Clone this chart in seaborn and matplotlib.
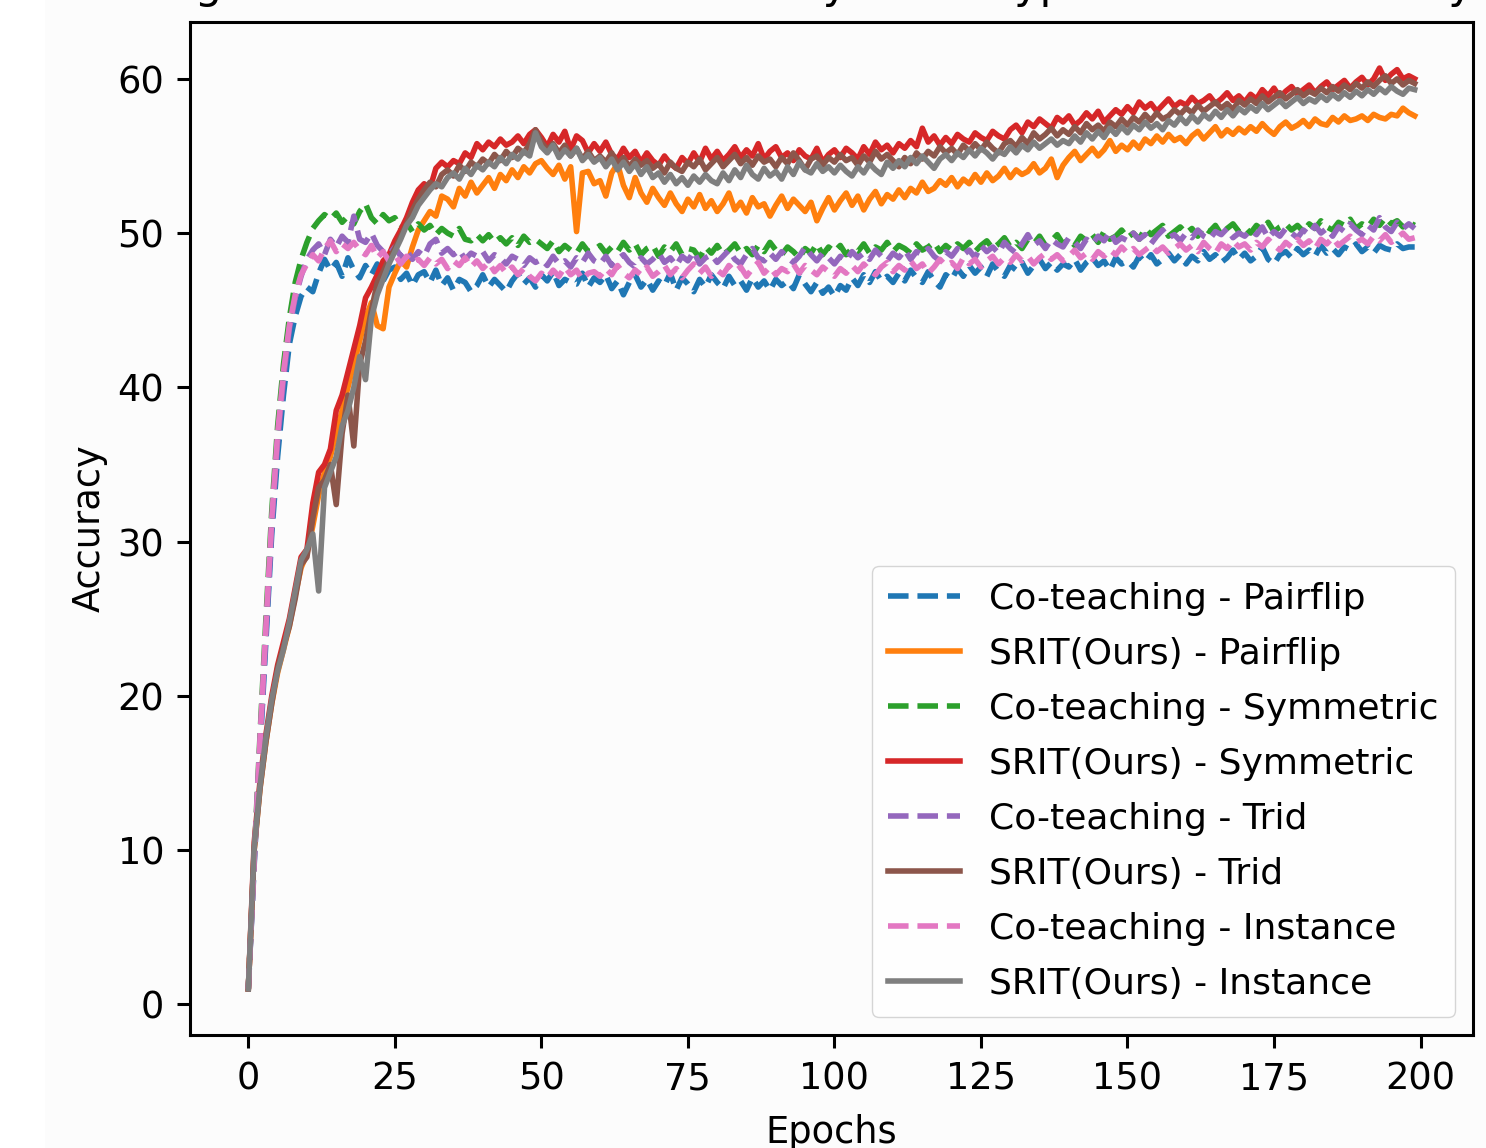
import numpy as np
import pandas as pd
import seaborn as sns
import matplotlib.pyplot as plt
from matplotlib.patches import Rectangle

# === Data (accuracy per epoch) ===
epochs = list(range(200))

ct_pairflip = [
    1.0, 9.0, 16.5, 23.5, 30.5, 35.5, 39.5, 42.8, 44.6, 45.9,
    46.5, 46.2, 47.4, 48.3, 47.6, 48.1, 47.2, 48.4, 47.6, 47.1,
    47.9, 47.3, 48.0, 46.9, 47.6, 47.8, 47.0, 47.4, 46.6, 47.3,
    47.5, 46.8, 47.6, 46.6, 47.1, 46.3, 47.0, 46.8, 46.2, 46.6,
    47.3, 46.5, 47.0, 46.6, 46.2, 46.9, 47.4, 46.7, 47.1, 46.5,
    47.3, 46.9, 47.5, 46.6, 47.0, 46.8, 46.7, 47.4, 46.5, 47.1,
    46.8, 47.3, 46.4, 46.9, 46.0, 46.8, 47.3, 46.5, 47.0, 46.3,
    46.9, 46.6, 47.4, 46.3, 47.1, 46.7, 46.2, 47.0, 46.5, 47.3,
    46.8, 46.4, 47.2, 46.6, 46.9, 46.3, 47.1, 46.5, 46.9, 46.3,
    47.0, 46.6, 46.9, 46.4, 47.3, 46.7, 46.2, 46.8, 46.1, 46.5,
    45.9, 46.6, 46.3, 47.1, 46.6, 47.3, 46.8, 47.5, 46.9, 47.2,
    46.8, 47.4, 46.9, 47.6, 47.1, 46.8, 47.5, 46.9, 46.5, 47.3,
    47.0, 47.7, 47.2, 47.9, 47.4, 47.8, 47.2, 48.0, 47.5, 47.2,
    47.9, 47.6, 48.1, 47.4, 47.9, 48.3, 47.7, 48.1, 47.6, 48.0,
    47.8, 48.3, 47.6, 48.1, 48.4, 47.9, 48.2, 47.6, 48.4, 48.0,
    48.2, 47.8, 48.5, 48.1, 48.6, 48.0, 48.3, 48.7, 48.2, 48.6,
    48.0, 48.5, 48.2, 48.8, 48.3, 48.6, 48.1, 48.4, 48.9, 48.3,
    48.7, 48.2, 48.5, 49.1, 48.3, 48.0, 48.6, 48.8, 48.4, 49.0,
    48.6, 48.9, 48.5, 49.2, 48.7, 49.0, 48.6, 49.1, 48.9, 49.3,
    48.8, 49.1, 48.7, 49.2, 49.0, 48.9, 49.3, 49.0, 49.1, 49.1,
]

srit_pairflip = [
    1.0, 10.0, 14.0, 17.0, 19.5, 21.5, 23.0, 24.5, 26.5, 28.3,
    29.2, 31.0, 33.0, 34.5, 35.5, 37.0, 38.5, 40.0, 41.5, 43.0,
    44.5, 45.5, 44.0, 43.8, 46.5, 47.4, 48.2, 47.8, 49.1, 50.2,
    50.8, 51.4, 51.1, 52.4, 52.2, 51.7, 52.9, 52.4, 53.3, 52.6,
    53.1, 53.6, 52.9, 53.8, 53.4, 54.1, 53.6, 54.3, 53.9, 54.5,
    54.7, 54.2, 53.8, 54.4, 53.5, 54.3, 50.1, 53.9, 54.0, 53.2,
    53.4, 52.4, 53.9, 54.5, 53.1, 52.3, 53.6, 52.6, 52.0, 52.9,
    52.3, 51.8, 52.6, 51.9, 51.4, 52.2, 51.7, 52.5, 51.6, 52.1,
    51.4, 51.9, 52.6, 51.5, 52.0, 51.3, 52.3, 51.7, 51.9, 51.1,
    51.8, 52.4, 51.6, 52.2, 51.8, 51.4, 52.0, 50.8, 51.6, 52.3,
    51.5, 52.1, 52.6, 51.8, 52.4, 51.5, 52.2, 52.7, 51.9, 52.5,
    52.2, 52.8, 52.3, 52.9, 52.6, 53.3, 52.7, 52.9, 53.4, 53.1,
    53.6, 53.0, 53.5, 53.2, 53.8, 53.3, 53.9, 53.4, 53.7, 54.2,
    53.6, 54.1, 53.8, 54.0, 54.5, 53.9, 54.2, 54.8, 53.6, 54.4,
    54.9, 55.3, 54.7, 55.1, 55.5, 55.0, 55.4, 56.0, 55.3, 55.7,
    55.4, 55.9, 55.5, 56.1, 55.8, 56.3, 55.9, 56.4, 56.0, 56.2,
    55.8, 56.3, 56.6, 56.1, 56.5, 56.9, 56.3, 56.7, 56.4, 56.8,
    56.5, 56.9, 56.6, 57.1, 56.7, 56.4, 56.9, 57.2, 56.8, 57.0,
    57.3, 56.9, 57.4, 57.1, 57.0, 57.5, 57.2, 57.6, 57.3, 57.4,
    57.6, 57.3, 57.7, 57.5, 57.4, 57.7, 57.6, 58.1, 57.8, 57.6,
]

ct_symmetric = [
    1.0, 9.5, 17.5, 25.0, 32.0, 37.5, 41.5, 44.5, 46.8, 48.3,
    49.4, 50.3, 50.8, 51.2, 50.9, 51.3, 50.7, 51.1, 50.6, 51.4,
    51.9, 51.0, 50.6, 51.2, 50.8, 51.0, 50.3, 50.7, 50.1, 50.6,
    50.2, 50.5, 49.9, 50.3, 50.0, 49.8, 50.3, 49.6, 49.5, 49.9,
    49.5, 49.9, 49.4, 49.7, 49.3, 49.7, 49.2, 49.8, 49.4, 49.6,
    49.3, 49.0, 49.5, 48.8, 49.2, 48.9, 48.7, 49.3, 48.8, 48.9,
    49.2, 48.7, 49.1, 48.8, 49.4, 48.9, 49.3, 48.6, 49.0, 49.2,
    48.5, 49.1, 48.8, 49.3, 48.6, 49.0, 48.9, 48.4, 49.1, 48.7,
    49.2, 48.6, 48.9, 49.3, 48.7, 49.0, 48.6, 49.2, 48.8, 49.4,
    48.9, 48.6, 49.1, 48.8, 48.4, 49.0, 48.7, 49.3, 48.6, 49.1,
    48.8, 49.2, 48.6, 49.0, 48.8, 49.3, 48.7, 49.1, 48.9, 49.4,
    48.8, 49.2, 49.0, 48.7, 49.3, 48.9, 49.1, 49.4, 48.8, 49.2,
    48.9, 49.3, 49.0, 49.4, 48.8, 49.2, 49.5, 49.0, 49.3, 49.7,
    49.1, 49.4, 49.0, 49.6, 49.3, 49.8, 49.2, 49.5, 49.9, 49.3,
    49.6, 49.2, 49.8, 49.5, 49.9, 49.4, 50.1, 49.6, 49.8, 50.2,
    49.7, 50.0, 49.6, 50.3, 49.9, 50.2, 50.5, 49.8, 50.1, 50.4,
    50.0, 50.3, 49.8, 50.4, 50.1, 50.5, 49.9, 50.3, 50.6, 50.1,
    50.4, 50.0, 50.5, 50.2, 50.7, 50.1, 50.4, 50.6, 50.2, 50.5,
    50.1, 50.6, 50.3, 50.8, 50.4, 50.2, 50.7, 50.5, 50.9, 50.3,
    50.6, 50.4, 50.9, 50.5, 51.0, 50.6, 50.8, 50.4, 50.7, 50.5,
]

srit_symmetric = [
    1.0, 10.5, 14.5, 17.5, 20.0, 22.0, 23.5, 25.0, 27.0, 29.0,
    29.5, 32.5, 34.5, 35.0, 36.0, 38.5, 39.5, 41.0, 42.5, 44.0,
    45.8, 46.5, 47.3, 48.2, 48.6, 49.5, 50.2, 51.0, 52.0, 52.8,
    53.2, 52.9, 54.2, 54.6, 54.3, 54.7, 54.5, 55.2, 54.9, 55.8,
    55.4, 55.9, 55.6, 56.1, 55.7, 55.9, 56.3, 55.8, 56.4, 56.7,
    56.2, 55.6, 56.4, 55.9, 56.6, 55.4, 56.3, 56.0, 55.2, 55.8,
    55.3, 55.9, 55.1, 54.8, 55.5, 54.9, 55.3, 54.6, 55.2, 54.7,
    54.4, 55.0, 54.5, 54.2, 54.9, 54.5, 55.2, 54.6, 55.5, 54.8,
    55.3, 54.7, 55.1, 55.6, 54.9, 55.4, 55.0, 55.8, 54.8, 55.3,
    55.6, 54.9, 55.2, 54.7, 55.4, 55.0, 54.8, 55.5, 54.6, 55.1,
    55.4, 54.9, 55.5, 55.2, 54.8, 55.6, 55.1, 55.9, 55.4, 55.7,
    55.2, 55.8, 55.5, 56.0, 55.6, 56.8, 55.9, 56.3, 55.7, 56.2,
    55.8, 56.4, 56.1, 55.9, 56.5, 56.2, 56.0, 56.6, 56.3, 56.1,
    56.7, 57.0, 56.5, 57.2, 56.9, 57.4, 57.1, 56.8, 57.5, 57.2,
    57.6, 57.0, 57.3, 57.8, 57.4, 57.9, 57.2, 57.6, 58.0, 57.7,
    58.2, 57.8, 58.5, 58.1, 58.4, 57.9, 58.3, 58.7, 58.2, 58.5,
    58.3, 58.8, 58.4, 58.6, 58.9, 58.4, 58.7, 59.1, 58.6, 58.9,
    58.5, 59.0, 58.7, 59.3, 58.9, 59.4, 58.8, 59.2, 59.5, 59.0,
    59.3, 59.6, 59.1, 59.5, 59.8, 59.3, 59.6, 59.9, 59.4, 59.8,
    60.1, 59.6, 60.0, 60.7, 59.9, 60.3, 60.6, 60.0, 60.2, 60.0,
]

ct_trid = [
    1.0, 9.2, 17.0, 24.0, 31.0, 36.5, 40.5, 43.8, 45.8, 47.2,
    48.3, 48.9, 49.3, 48.6, 49.6, 49.1, 49.8, 49.4, 51.1, 49.6,
    49.4, 50.0, 49.2, 48.8, 48.6, 49.1, 48.5, 48.9, 48.3, 48.8,
    48.5, 49.3, 49.6, 48.7, 49.0, 48.6, 48.9, 48.3, 48.7, 48.5,
    48.8, 48.2, 48.6, 48.4, 48.0, 48.5, 48.3, 47.9, 48.4, 48.1,
    48.3, 47.9, 48.5, 48.0, 48.2, 47.8, 48.4, 48.1, 48.7, 48.2,
    48.0, 48.5, 47.9, 48.3, 48.6, 48.1, 47.8, 48.4, 48.0, 48.3,
    48.7, 48.1, 48.4, 47.9, 48.5, 48.2, 48.8, 48.0, 48.4, 48.6,
    48.1, 48.5, 48.9, 48.3, 48.0, 48.6, 49.0, 48.4, 48.2, 48.7,
    48.3, 48.8, 48.4, 48.1, 48.5, 49.1, 48.6, 48.2, 48.7, 48.4,
    48.0, 48.5, 48.2, 48.8, 48.4, 48.7, 48.3, 48.9, 48.5, 48.2,
    48.7, 48.4, 48.9, 48.3, 48.8, 48.6, 49.0, 48.5, 48.2, 48.8,
    48.5, 49.0, 48.6, 48.9, 48.4, 49.2, 48.8, 49.1, 48.7, 49.4,
    49.0, 48.7, 49.3, 49.9, 49.2, 49.5, 49.0, 49.6, 49.3, 49.1,
    49.7, 49.4, 49.0, 49.6, 49.3, 49.8, 49.5, 50.1, 49.4, 49.7,
    49.5, 50.0, 49.6, 49.9, 49.3, 49.8, 50.2, 49.7, 49.9, 49.5,
    50.0, 49.7, 50.2, 49.8, 49.6, 50.1, 49.9, 50.3, 49.7, 50.0,
    49.8, 50.2, 49.9, 50.4, 49.7, 50.1, 49.8, 50.3, 50.0, 49.7,
    50.2, 49.9, 50.5, 50.0, 50.3, 49.8, 50.4, 50.1, 50.6, 50.2,
    49.9, 50.5, 50.2, 51.0, 50.4, 50.1, 50.7, 50.3, 50.6, 50.3,
]

srit_trid = [
    1.0, 10.0, 14.0, 17.0, 19.5, 21.8, 23.2, 24.5, 26.3, 28.5,
    29.0, 31.5, 33.5, 34.0, 35.0, 32.4, 37.0, 39.5, 36.2, 41.5,
    43.0, 45.0, 46.8, 47.5, 48.3, 49.0, 49.8, 50.6, 51.5, 52.2,
    52.8, 53.3, 53.0, 53.8, 54.1, 53.7, 54.4, 54.0, 54.6, 54.3,
    54.8, 54.5, 55.1, 54.7, 55.3, 54.9, 55.5, 55.2, 55.8, 56.7,
    55.9, 55.4, 55.8, 55.2, 55.7, 55.0, 55.5, 54.8, 55.3, 54.7,
    55.0, 54.6, 55.2, 54.5, 54.9, 54.3, 54.8, 54.4, 54.7, 54.2,
    54.5, 53.9, 54.6, 54.2, 54.0, 54.6, 54.3, 54.8, 54.1, 54.5,
    54.9, 54.3, 54.7, 55.1, 54.5, 54.9, 54.4, 55.0, 54.6, 54.8,
    54.3, 54.9, 54.5, 55.2, 54.7, 54.1, 54.8, 55.0, 54.4, 54.9,
    54.6, 55.1, 54.7, 54.9, 54.4, 55.0, 54.6, 55.3, 54.8, 55.1,
    54.7, 54.3, 54.9, 54.5, 55.2, 54.8, 55.3, 55.0, 55.6, 55.2,
    55.5, 55.1, 55.7, 55.3, 55.8, 55.4, 55.9, 55.5, 55.2, 55.8,
    56.0, 55.6, 56.2, 55.8, 56.5, 56.1, 56.4, 56.8, 56.3, 56.7,
    56.4, 56.9, 56.5, 57.1, 56.7, 57.0, 56.6, 57.2, 56.9, 57.4,
    57.0, 57.5, 57.2, 57.7, 57.3, 57.8, 57.4, 57.6, 58.0, 57.7,
    58.1, 57.8, 58.3, 57.9, 58.2, 58.5, 58.1, 58.4, 58.0, 58.6,
    58.3, 58.7, 58.4, 58.9, 58.5, 58.8, 59.1, 58.7, 59.0, 59.3,
    58.9, 59.2, 59.0, 59.4, 59.1, 59.5, 59.2, 59.6, 59.3, 59.7,
    59.4, 59.8, 59.5, 59.9, 60.2, 59.7, 60.0, 59.6, 59.9, 59.7,
]

ct_instance = [
    1.0, 9.3, 17.2, 24.5, 31.5, 37.0, 41.0, 44.0, 46.0, 47.3,
    48.0, 48.6, 48.2, 49.0, 49.5, 48.8, 49.3, 49.0, 49.4, 48.9,
    48.6, 49.2, 48.4, 48.8, 48.2, 48.6, 48.0, 48.5, 48.1, 48.3,
    47.9, 48.4, 48.0, 48.3, 47.7, 48.2, 47.9, 48.4, 47.8, 48.2,
    47.7, 48.1, 47.5, 47.9, 47.4, 47.8, 47.3, 47.7, 47.2, 46.9,
    47.4, 47.1, 47.6, 47.2, 47.8, 47.3, 47.6, 47.0, 47.4, 47.5,
    47.2, 47.7, 47.3, 47.9, 47.4, 47.1, 47.6, 47.3, 47.8, 47.2,
    47.5, 47.9, 47.3, 47.7, 47.1, 47.6, 48.0, 47.4, 47.8, 47.2,
    47.6, 47.3, 47.9, 47.5, 47.8, 47.2, 47.7, 48.1, 47.4, 47.8,
    47.3, 47.7, 47.5, 48.0, 47.4, 47.9, 47.6, 47.3, 47.8, 47.5,
    47.2, 47.7, 47.4, 47.9, 47.5, 48.0, 47.6, 47.3, 47.8, 48.1,
    47.5, 47.9, 47.6, 48.2, 47.7, 48.0, 47.4, 47.8, 48.3, 47.9,
    48.1, 47.7, 48.4, 48.0, 48.3, 47.8, 48.2, 48.5, 48.0, 48.4,
    48.1, 48.6, 48.2, 48.5, 48.0, 48.4, 48.7, 48.3, 48.6, 48.2,
    48.5, 48.9, 48.4, 48.7, 48.3, 48.8, 48.5, 48.9, 48.6, 49.1,
    48.7, 49.0, 48.6, 48.9, 49.2, 48.8, 49.1, 48.7, 49.0, 49.3,
    48.9, 49.2, 48.8, 49.4, 49.0, 48.7, 49.3, 49.0, 49.5, 49.1,
    49.3, 48.9, 49.4, 49.1, 49.6, 49.2, 48.9, 49.4, 49.1, 49.6,
    49.2, 49.5, 49.0, 49.6, 49.3, 49.7, 49.2, 49.5, 49.8, 49.4,
    49.6, 49.3, 49.8, 49.5, 49.9, 49.4, 49.7, 50.0, 49.6, 49.7,
]

srit_instance = [
    1.0, 10.2, 14.2, 17.3, 19.8, 21.6, 23.0, 24.8, 26.8, 28.8,
    29.5, 30.5, 26.8, 33.5, 34.5, 35.5, 37.5, 38.5, 40.0, 42.0,
    40.5, 44.5, 46.0, 47.0, 48.0, 48.8, 49.6, 50.5, 51.0, 51.8,
    52.3, 52.8, 53.2, 53.0, 53.6, 53.9, 53.5, 54.2, 53.8, 54.4,
    54.1, 54.6, 54.3, 54.9, 54.5, 55.1, 54.8, 55.3, 55.0, 56.5,
    55.6, 55.2, 55.7, 54.9, 55.4, 55.0, 55.5, 54.7, 55.1, 54.6,
    54.9, 54.3, 54.8, 54.1, 54.6, 54.0, 54.5, 53.8, 54.3, 53.6,
    53.9, 53.3, 53.8, 53.2, 53.6, 53.1, 53.7, 53.3, 53.8, 53.4,
    53.2, 53.9, 53.4, 54.1, 53.6, 54.4, 53.8, 53.5, 54.2, 53.7,
    54.0, 53.5, 54.3, 53.8, 54.6, 54.1, 53.9, 54.5, 54.0, 54.3,
    53.9, 54.4, 54.0, 53.7, 54.3, 53.9, 54.5, 54.1, 53.8, 54.6,
    54.2, 54.7, 54.3, 54.9, 54.5, 55.0, 54.6, 54.2, 54.8, 55.1,
    54.7, 55.2, 54.9, 55.4, 55.0, 55.5, 55.2, 54.8, 55.3, 55.1,
    55.6, 55.2, 55.7, 55.4, 55.9, 55.5, 55.8, 56.1, 55.7, 56.0,
    55.8, 56.3, 55.9, 56.5, 56.1, 56.6, 56.2, 56.8, 56.4, 56.9,
    56.5, 57.0, 56.7, 57.2, 56.8, 57.1, 56.7, 57.3, 57.0, 57.5,
    57.1, 57.6, 57.2, 57.7, 57.4, 57.9, 57.5, 58.0, 57.6, 58.1,
    57.8, 58.2, 57.9, 58.4, 58.0, 58.3, 58.6, 58.2, 58.5, 58.8,
    58.4, 58.7, 58.5, 58.9, 58.6, 59.0, 58.7, 59.1, 58.8, 59.2,
    58.9, 59.3, 59.0, 59.4, 59.1, 59.5, 59.2, 59.0, 59.4, 59.3,
]

series = [
    ("Co-teaching - Pairflip", ct_pairflip, "#1f77b4", "--"),
    ("SRIT(Ours) - Pairflip", srit_pairflip, "#ff7f0e", "-"),
    ("Co-teaching - Symmetric", ct_symmetric, "#2ca02c", "--"),
    ("SRIT(Ours) - Symmetric", srit_symmetric, "#d62728", "-"),
    ("Co-teaching - Trid", ct_trid, "#9467bd", "--"),
    ("SRIT(Ours) - Trid", srit_trid, "#8c564b", "-"),
    ("Co-teaching - Instance", ct_instance, "#e377c2", "--"),
    ("SRIT(Ours) - Instance", srit_instance, "#7f7f7f", "-"),
]

title = "Testing Performance of CIFAR100 by Noise Type under 20% Noisy"

# === Style ===
plt.rcParams.update({
    "font.family": "DejaVu Sans",
    "font.size": 26.5,
    "axes.linewidth": 2.2,
    "xtick.major.width": 2.2,
    "ytick.major.width": 2.2,
    "xtick.major.size": 9.5,
    "ytick.major.size": 9.5,
    "xtick.major.pad": 9,
    "ytick.major.pad": 9,
})

fig = plt.figure(figsize=(14.86, 11.48), dpi=100, facecolor="#fcfcfc")
fig.patches.append(Rectangle((0, 0), 45 / 1486, 1, transform=fig.transFigure,
                             facecolor="white", edgecolor="none", zorder=-1))
ax = fig.add_axes([190 / 1486, 1 - 1035 / 1148, 1283 / 1486, 1013 / 1148])
ax.set_facecolor("#fcfcfc")

for name, vals, col, ls in series:
    sns.lineplot(x=epochs, y=vals, ax=ax, color=col, linestyle=ls,
                 linewidth=4.0, label=name)

ax.set_xlabel("Epochs", labelpad=12)
ax.set_ylabel("Accuracy", labelpad=7)
ax.set_xticks([0, 25, 50, 75, 100, 125, 150, 175, 200])
ax.set_yticks([0, 10, 20, 30, 40, 50, 60])

ax.legend(loc="lower right", fontsize=26, framealpha=0.8,
          handlelength=2.0, borderpad=0.45, labelspacing=0.58)

# title sits mostly above the visible area, as in the cropped reference
fig.text(0.52, 1.002, title, ha="center", va="baseline", fontsize=31)

fig.savefig("out.png", dpi=100, facecolor=fig.get_facecolor())
